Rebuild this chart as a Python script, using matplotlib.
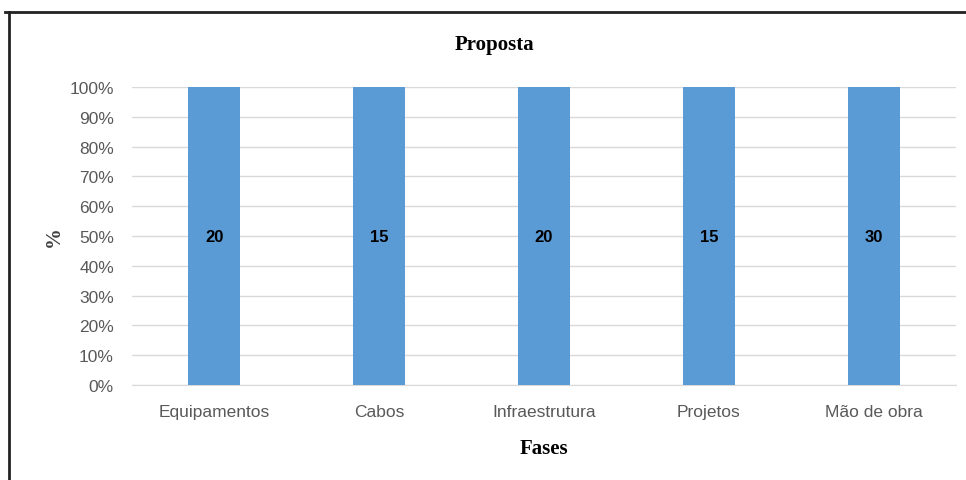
import matplotlib
matplotlib.use("Agg")
from matplotlib import pyplot as plt
from matplotlib.lines import Line2D
from matplotlib.ticker import FuncFormatter

fases = ["Equipamentos", "Cabos", "Infraestrutura", "Projetos", "Mão de obra"]
valores = [20, 15, 20, 15, 30]

# single series in a 100% stacked chart -> every bar is 100%
percentuais = [v / v * 100 for v in valores]

fig = plt.figure(figsize=(9.66, 4.81), dpi=100)
ax = fig.add_axes([0.1366, 0.1975, 0.853, 0.6195])

x = range(len(fases))
ax.bar(x, percentuais, width=0.315, color="#5B9BD5", zorder=3)

for xi, v, p in zip(x, valores, percentuais):
    ax.text(xi, p / 2, str(v), ha="center", va="center", fontsize=12,
            fontweight="bold", family="Liberation Sans", color="black", zorder=4)

ax.set_xlim(-0.5, len(fases) - 0.5)
ax.set_ylim(0, 100)
ax.set_yticks(range(0, 101, 10))
ax.yaxis.set_major_formatter(FuncFormatter(lambda v, _: "%d%%" % v))
ax.set_xticks(list(x))
ax.set_xticklabels(fases)

ax.grid(axis="y", color="#D9D9D9", linewidth=1, zorder=0)
for s in ["top", "right", "left"]:
    ax.spines[s].set_visible(False)
ax.spines["bottom"].set_color("#D9D9D9")
ax.tick_params(length=0, labelsize=12.5, labelcolor="#595959")
for lab in ax.get_xticklabels() + ax.get_yticklabels():
    lab.set_family("Liberation Sans")
ax.tick_params(axis="x", pad=14)
ax.tick_params(axis="y", pad=13)

fig.text(0.512, 0.906, "Proposta", ha="center", va="center", fontsize=15,
         fontweight="bold", family="Liberation Serif")
ax.set_xlabel("Fases", fontsize=15, fontweight="bold", family="Liberation Serif",
              labelpad=13)
ax.set_ylabel("%", fontsize=15, fontweight="bold", family="Liberation Serif",
              color="#404040", labelpad=4)

# frame lines around the picture (top and left only)
fig.add_artist(Line2D([0.005, 1.0], [0.973, 0.973], color="#222222", linewidth=2))
fig.add_artist(Line2D([0.0093, 0.0093], [0.0, 0.973], color="#222222", linewidth=2))

fig.savefig("out.png", dpi=100)
